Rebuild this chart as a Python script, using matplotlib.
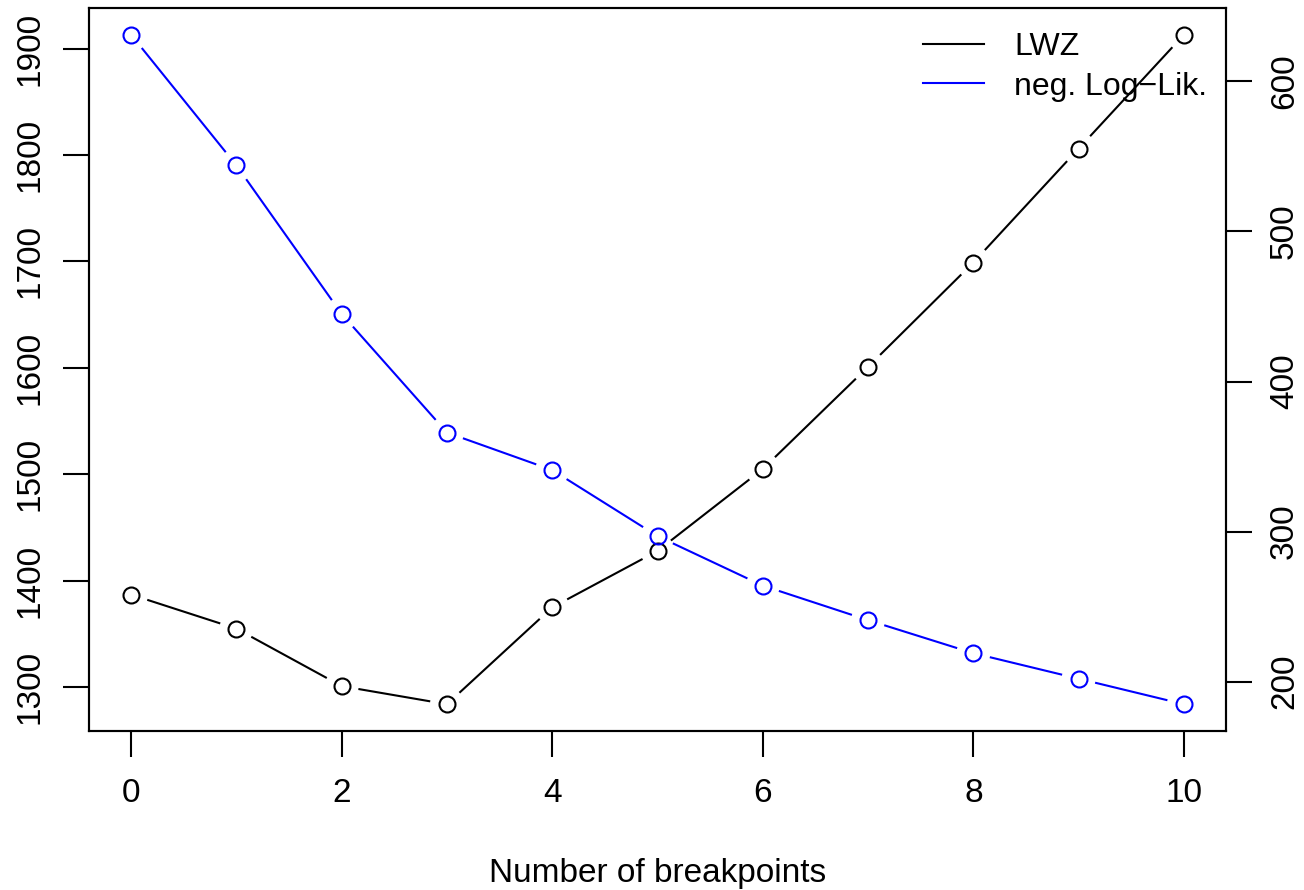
import numpy as np
import matplotlib.pyplot as plt
from matplotlib.lines import Line2D

plt.rcParams['font.family'] = ['Liberation Sans', 'DejaVu Sans']

# breakpoint selection: LWZ criterion (left axis) and neg. log-likelihood (right axis)
breaks = [0, 1, 2, 3, 4, 5, 6, 7, 8, 9, 10]
lwz = [1387, 1355, 1301, 1284, 1375, 1428, 1505, 1601, 1699, 1806, 1913]
negloglik = [631, 544, 445, 366, 341, 297, 264, 241, 219, 202, 185]

fs = 24
W, H = 1304, 890
fig = plt.figure(figsize=(W / 100, H / 100), dpi=100)
ax = fig.add_axes([89 / W, 1 - 731 / H, (1226 - 89) / W, (731 - 8) / H])
ax2 = ax.twinx()


def pad_lim(v):
    lo, hi = min(v), max(v)
    d = (hi - lo) * 0.04
    return lo - d, hi + d


def draw_b(a, x, y, col):
    # R type="b": segments stop short of the points
    a.set_xlim(pad_lim(x))
    a.set_ylim(pad_lim(y))
    fig.canvas.draw()
    pts = a.transData.transform(np.column_stack([x, y]))
    gap = 18
    inv = a.transData.inverted()
    for p, q in zip(pts[:-1], pts[1:]):
        d = q - p
        n = np.hypot(*d)
        if n <= 2 * gap:
            continue
        u = d / n
        s = inv.transform([p + u * gap, q - u * gap])
        a.add_line(Line2D(s[:, 0], s[:, 1], color=col, lw=1.5))
    a.plot(x, y, ls='none', marker='o', ms=11.5, mfc='none', mec=col, mew=1.5)


draw_b(ax, breaks, lwz, 'black')
draw_b(ax2, breaks, negloglik, 'blue')

ax.set_xticks([0, 2, 4, 6, 8, 10])
ax.set_yticks([1300, 1400, 1500, 1600, 1700, 1800, 1900])
ax2.set_yticks([200, 300, 400, 500, 600])
for a in (ax, ax2):
    for s in a.spines.values():
        s.set_linewidth(1.5)
    a.tick_params(length=19, width=1.5, labelsize=fs, pad=12)
    for t in a.get_yticklabels():
        t.set_rotation(90)
        t.set_va('center')
ax.tick_params(axis='x', pad=15)

ax.set_xlabel('Number of breakpoints', fontsize=fs, labelpad=35)

handles = [Line2D([], [], color='black', lw=1.5), Line2D([], [], color='blue', lw=1.5)]
fig.legend(handles, ['LWZ', 'neg. Log\u2212Lik.'], loc='upper left',
           bbox_to_anchor=(923 / W, 1 - 32 / H), frameon=False, fontsize=23,
           borderpad=0, borderaxespad=0, handlelength=1.9, handletextpad=0.95,
           labelspacing=0.3)

fig.savefig('out.png', dpi=100)
